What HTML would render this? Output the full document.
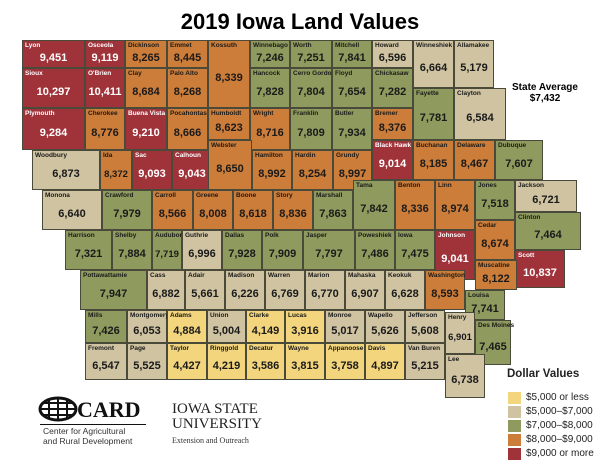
<!DOCTYPE html><html><head><meta charset="utf-8"><style>
body{margin:0;width:600px;height:463px;background:#fff;position:relative;overflow:hidden;font-family:"Liberation Sans",sans-serif}
.c{position:absolute;box-sizing:border-box;border:1px solid #4a4a3a;display:flex;align-items:center;justify-content:center;padding-top:8px;color:#1a1a1a}
.c b{position:absolute;left:2px;top:1px;font-size:6.5px;font-weight:bold;white-space:nowrap}
.c i{font-style:normal;font-weight:bold;font-size:11px}
.n i{font-size:9.5px}
.r{background:#a0323a;color:#fff}.o{background:#cd7d3a}.g{background:#8f9a5e}.t{background:#cfc3a2}.y{background:#f2d57c}
.lg{position:absolute;left:508px;width:13px;height:12px}
.lt{position:absolute;left:526px;font-size:10px;color:#222}
</style></head><body>
<div style="position:absolute;left:0;width:600px;top:9px;text-align:center;font-weight:bold;font-size:22px">2019 Iowa Land Values</div>
<div style="position:absolute;left:505px;top:82px;width:80px;text-align:center;font-weight:bold;font-size:10px;line-height:11px">State Average<br>$7,432</div>
<div class="c r" style="left:22px;top:40px;width:63px;height:28px"><b>Lyon</b><i>9,451</i></div>
<div class="c r" style="left:85px;top:40px;width:40px;height:28px"><b>Osceola</b><i>9,119</i></div>
<div class="c o" style="left:125px;top:40px;width:42px;height:28px"><b>Dickinson</b><i>8,265</i></div>
<div class="c o" style="left:167px;top:40px;width:41px;height:28px"><b>Emmet</b><i>8,445</i></div>
<div class="c o" style="left:208px;top:40px;width:42px;height:68px"><b>Kossuth</b><i>8,339</i></div>
<div class="c g" style="left:250px;top:40px;width:40px;height:28px"><b>Winnebago</b><i>7,246</i></div>
<div class="c g" style="left:290px;top:40px;width:42px;height:28px"><b>Worth</b><i>7,251</i></div>
<div class="c g" style="left:332px;top:40px;width:40px;height:28px"><b>Mitchell</b><i>7,841</i></div>
<div class="c t" style="left:372px;top:40px;width:41px;height:28px"><b>Howard</b><i>6,596</i></div>
<div class="c t" style="left:413px;top:40px;width:41px;height:48px"><b>Winneshiek</b><i>6,664</i></div>
<div class="c t" style="left:454px;top:40px;width:40px;height:48px"><b>Allamakee</b><i>5,179</i></div>
<div class="c r" style="left:22px;top:68px;width:63px;height:40px"><b>Sioux</b><i>10,297</i></div>
<div class="c r" style="left:85px;top:68px;width:40px;height:40px"><b>O'Brien</b><i>10,411</i></div>
<div class="c o" style="left:125px;top:68px;width:42px;height:40px"><b>Clay</b><i>8,684</i></div>
<div class="c o" style="left:167px;top:68px;width:41px;height:40px"><b>Palo Alto</b><i>8,268</i></div>
<div class="c g" style="left:250px;top:68px;width:40px;height:40px"><b>Hancock</b><i>7,828</i></div>
<div class="c g" style="left:290px;top:68px;width:42px;height:40px"><b>Cerro Gordo</b><i>7,804</i></div>
<div class="c g" style="left:332px;top:68px;width:40px;height:40px"><b>Floyd</b><i>7,654</i></div>
<div class="c g" style="left:372px;top:68px;width:41px;height:40px"><b>Chickasaw</b><i>7,282</i></div>
<div class="c g" style="left:413px;top:88px;width:41px;height:52px"><b>Fayette</b><i>7,781</i></div>
<div class="c t" style="left:454px;top:88px;width:52px;height:52px"><b>Clayton</b><i>6,584</i></div>
<div class="c r" style="left:22px;top:108px;width:63px;height:42px"><b>Plymouth</b><i>9,284</i></div>
<div class="c o" style="left:85px;top:108px;width:40px;height:42px"><b>Cherokee</b><i>8,776</i></div>
<div class="c r" style="left:125px;top:108px;width:42px;height:42px"><b>Buena Vista</b><i>9,210</i></div>
<div class="c o" style="left:167px;top:108px;width:41px;height:42px"><b>Pocahontas</b><i>8,666</i></div>
<div class="c o" style="left:208px;top:108px;width:42px;height:32px"><b>Humboldt</b><i>8,623</i></div>
<div class="c o" style="left:250px;top:108px;width:40px;height:42px"><b>Wright</b><i>8,716</i></div>
<div class="c g" style="left:290px;top:108px;width:42px;height:42px"><b>Franklin</b><i>7,809</i></div>
<div class="c g" style="left:332px;top:108px;width:40px;height:42px"><b>Butler</b><i>7,934</i></div>
<div class="c o" style="left:372px;top:108px;width:41px;height:32px"><b>Bremer</b><i>8,376</i></div>
<div class="c t" style="left:32px;top:150px;width:68px;height:40px"><b>Woodbury</b><i>6,873</i></div>
<div class="c o n" style="left:100px;top:150px;width:32px;height:40px"><b>Ida</b><i>8,372</i></div>
<div class="c r" style="left:132px;top:150px;width:40px;height:40px"><b>Sac</b><i>9,093</i></div>
<div class="c r" style="left:172px;top:150px;width:40px;height:40px"><b>Calhoun</b><i>9,043</i></div>
<div class="c o" style="left:208px;top:140px;width:44px;height:50px"><b>Webster</b><i>8,650</i></div>
<div class="c o" style="left:252px;top:150px;width:40px;height:40px"><b>Hamilton</b><i>8,992</i></div>
<div class="c o" style="left:292px;top:150px;width:41px;height:40px"><b>Hardin</b><i>8,254</i></div>
<div class="c o" style="left:333px;top:150px;width:39px;height:40px"><b>Grundy</b><i>8,997</i></div>
<div class="c r" style="left:372px;top:140px;width:41px;height:40px"><b>Black Hawk</b><i>9,014</i></div>
<div class="c o" style="left:413px;top:140px;width:41px;height:40px"><b>Buchanan</b><i>8,185</i></div>
<div class="c o" style="left:454px;top:140px;width:41px;height:40px"><b>Delaware</b><i>8,467</i></div>
<div class="c g" style="left:495px;top:140px;width:48px;height:40px"><b>Dubuque</b><i>7,607</i></div>
<div class="c t" style="left:42px;top:190px;width:60px;height:40px"><b>Monona</b><i>6,640</i></div>
<div class="c g" style="left:102px;top:190px;width:50px;height:40px"><b>Crawford</b><i>7,979</i></div>
<div class="c o" style="left:152px;top:190px;width:41px;height:40px"><b>Carroll</b><i>8,566</i></div>
<div class="c o" style="left:193px;top:190px;width:40px;height:40px"><b>Greene</b><i>8,008</i></div>
<div class="c o" style="left:233px;top:190px;width:40px;height:40px"><b>Boone</b><i>8,618</i></div>
<div class="c o" style="left:273px;top:190px;width:40px;height:40px"><b>Story</b><i>8,836</i></div>
<div class="c g" style="left:313px;top:190px;width:40px;height:40px"><b>Marshall</b><i>7,863</i></div>
<div class="c g" style="left:353px;top:180px;width:42px;height:50px"><b>Tama</b><i>7,842</i></div>
<div class="c o" style="left:395px;top:180px;width:40px;height:50px"><b>Benton</b><i>8,336</i></div>
<div class="c o" style="left:435px;top:180px;width:40px;height:50px"><b>Linn</b><i>8,974</i></div>
<div class="c g" style="left:475px;top:180px;width:40px;height:40px"><b>Jones</b><i>7,518</i></div>
<div class="c t" style="left:515px;top:180px;width:62px;height:32px"><b>Jackson</b><i>6,721</i></div>
<div class="c g" style="left:515px;top:212px;width:66px;height:38px"><b>Clinton</b><i>7,464</i></div>
<div class="c o" style="left:475px;top:220px;width:40px;height:40px"><b>Cedar</b><i>8,674</i></div>
<div class="c g" style="left:65px;top:230px;width:47px;height:40px"><b>Harrison</b><i>7,321</i></div>
<div class="c g" style="left:112px;top:230px;width:40px;height:40px"><b>Shelby</b><i>7,884</i></div>
<div class="c g n" style="left:152px;top:230px;width:30px;height:40px"><b>Audubon</b><i>7,719</i></div>
<div class="c t" style="left:182px;top:230px;width:40px;height:40px"><b>Guthrie</b><i>6,996</i></div>
<div class="c g" style="left:222px;top:230px;width:40px;height:40px"><b>Dallas</b><i>7,928</i></div>
<div class="c g" style="left:262px;top:230px;width:41px;height:40px"><b>Polk</b><i>7,909</i></div>
<div class="c g" style="left:303px;top:230px;width:52px;height:40px"><b>Jasper</b><i>7,797</i></div>
<div class="c g" style="left:355px;top:230px;width:40px;height:40px"><b>Poweshiek</b><i>7,486</i></div>
<div class="c g" style="left:395px;top:230px;width:40px;height:40px"><b>Iowa</b><i>7,475</i></div>
<div class="c r" style="left:435px;top:230px;width:40px;height:50px"><b>Johnson</b><i>9,041</i></div>
<div class="c r" style="left:515px;top:250px;width:50px;height:38px"><b>Scott</b><i>10,837</i></div>
<div class="c g" style="left:80px;top:270px;width:67px;height:40px"><b>Pottawattamie</b><i>7,947</i></div>
<div class="c t" style="left:147px;top:270px;width:38px;height:40px"><b>Cass</b><i>6,882</i></div>
<div class="c t" style="left:185px;top:270px;width:40px;height:40px"><b>Adair</b><i>5,661</i></div>
<div class="c t" style="left:225px;top:270px;width:40px;height:40px"><b>Madison</b><i>6,226</i></div>
<div class="c t" style="left:265px;top:270px;width:40px;height:40px"><b>Warren</b><i>6,769</i></div>
<div class="c t" style="left:305px;top:270px;width:40px;height:40px"><b>Marion</b><i>6,770</i></div>
<div class="c t" style="left:345px;top:270px;width:40px;height:40px"><b>Mahaska</b><i>6,907</i></div>
<div class="c t" style="left:385px;top:270px;width:40px;height:40px"><b>Keokuk</b><i>6,628</i></div>
<div class="c o" style="left:425px;top:270px;width:40px;height:40px"><b>Washington</b><i>8,593</i></div>
<div class="c o" style="left:475px;top:260px;width:42px;height:30px"><b>Muscatine</b><i>8,122</i></div>
<div class="c g" style="left:465px;top:290px;width:40px;height:30px"><b>Louisa</b><i>7,741</i></div>
<div class="c g" style="left:85px;top:310px;width:42px;height:33px"><b>Mills</b><i>7,426</i></div>
<div class="c t" style="left:127px;top:310px;width:40px;height:33px"><b>Montgomery</b><i>6,053</i></div>
<div class="c y" style="left:167px;top:310px;width:40px;height:33px"><b>Adams</b><i>4,884</i></div>
<div class="c t" style="left:207px;top:310px;width:39px;height:33px"><b>Union</b><i>5,004</i></div>
<div class="c y" style="left:246px;top:310px;width:39px;height:33px"><b>Clarke</b><i>4,149</i></div>
<div class="c y" style="left:285px;top:310px;width:40px;height:33px"><b>Lucas</b><i>3,916</i></div>
<div class="c t" style="left:325px;top:310px;width:40px;height:33px"><b>Monroe</b><i>5,017</i></div>
<div class="c t" style="left:365px;top:310px;width:40px;height:33px"><b>Wapello</b><i>5,626</i></div>
<div class="c t" style="left:405px;top:310px;width:40px;height:33px"><b>Jefferson</b><i>5,608</i></div>
<div class="c t n" style="left:445px;top:312px;width:30px;height:42px"><b>Henry</b><i>6,901</i></div>
<div class="c g" style="left:475px;top:320px;width:36px;height:45px"><b>Des Moines</b><i>7,465</i></div>
<div class="c t" style="left:85px;top:343px;width:42px;height:37px"><b>Fremont</b><i>6,547</i></div>
<div class="c t" style="left:127px;top:343px;width:40px;height:37px"><b>Page</b><i>5,525</i></div>
<div class="c y" style="left:167px;top:343px;width:40px;height:37px"><b>Taylor</b><i>4,427</i></div>
<div class="c y" style="left:207px;top:343px;width:39px;height:37px"><b>Ringgold</b><i>4,219</i></div>
<div class="c y" style="left:246px;top:343px;width:39px;height:37px"><b>Decatur</b><i>3,586</i></div>
<div class="c y" style="left:285px;top:343px;width:40px;height:37px"><b>Wayne</b><i>3,815</i></div>
<div class="c y" style="left:325px;top:343px;width:40px;height:37px"><b>Appanoose</b><i>3,758</i></div>
<div class="c y" style="left:365px;top:343px;width:40px;height:37px"><b>Davis</b><i>4,897</i></div>
<div class="c t" style="left:405px;top:343px;width:40px;height:37px"><b>Van Buren</b><i>5,215</i></div>
<div class="c t" style="left:445px;top:354px;width:40px;height:44px"><b>Lee</b><i>6,738</i></div>
<div style="position:absolute;left:507px;top:368px;font-weight:bold;font-size:11.5px;color:#222">Dollar Values</div>
<div class="lg y" style="top:392px"></div><div class="lt" style="top:392px">$5,000 or less</div>
<div class="lg t" style="top:406px"></div><div class="lt" style="top:406px">$5,000–$7,000</div>
<div class="lg g" style="top:420px"></div><div class="lt" style="top:420px">$7,000–$8,000</div>
<div class="lg o" style="top:434px"></div><div class="lt" style="top:434px">$8,000–$9,000</div>
<div class="lg r" style="top:448px"></div><div class="lt" style="top:448px">$9,000 or more</div>
<svg style="position:absolute;left:38px;top:396px" width="40" height="26"><ellipse cx="20" cy="13" rx="18" ry="11" fill="none" stroke="#111" stroke-width="3"/><path d="M2 13H38M20 2V24M6 7H34M6 19H34M11 3V23M29 3V23" stroke="#111" stroke-width="2"/></svg>
<div style="position:absolute;left:77px;top:397px;font-family:'Liberation Serif',serif;font-weight:bold;font-size:22px;color:#111">CARD</div>
<div style="position:absolute;left:40px;top:424px;width:106px;border-top:1px solid #111"></div>
<div style="position:absolute;left:43px;top:426px;font-size:8.5px;line-height:10px;color:#333">Center for Agricultural<br>and Rural Development</div>
<div style="position:absolute;left:172px;top:402px;font-family:'Liberation Serif',serif;font-size:15px;line-height:15px;color:#222">IOWA STATE<br>UNIVERSITY</div>
<div style="position:absolute;left:172px;top:436px;font-family:'Liberation Serif',serif;font-size:8px;color:#333">Extension and Outreach</div>
</body></html>
